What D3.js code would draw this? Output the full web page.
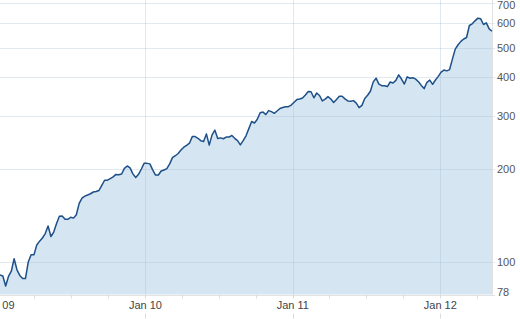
<!DOCTYPE html>
<html>
<head>
<meta charset="utf-8">
<script src="https://cdn.jsdelivr.net/npm/d3@7"></script>
<style>
  body { margin: 0; background: #fff; }
  svg { display: block; font-family: "Liberation Sans", Arial, sans-serif; }
</style>
</head>
<body>
<script>
// weekly closes, first week starting 2009-01-06
const startDate = "2009-01-06";
const closes = [
  90.4, 89.7, 83.2, 89.4, 93.0, 102.2, 94.0, 90.1, 88.1, 88.0,
  99.7, 105.2, 105.2, 113.3, 116.6, 119.4, 123.5, 130.8, 120.8, 124.9,
  133.1, 140.6, 140.8, 137.5, 137.4, 139.6, 138.7, 142.3, 154.9, 161.3,
  163.7, 165.1, 166.6, 168.8, 169.4, 170.8, 177.3, 184.4, 184.5, 186.8,
  189.1, 192.7, 192.1, 193.3, 201.6, 205.3, 202.5, 193.5, 188.3, 192.9,
  200.7, 209.7, 209.4, 208.6, 199.4, 191.8, 191.8, 197.7, 199.2, 201.3,
  208.7, 218.6, 221.8, 225.5, 231.4, 236.5, 239.9, 243.7, 256.1, 256.1,
  252.9, 248.4, 246.8, 261.4, 240.2, 259.4, 268.8, 252.4, 253.7, 252.0,
  255.3, 255.3, 258.3, 252.8, 248.4, 240.6, 248.4, 257.7, 272.0, 287.0,
  283.7, 292.0, 306.4, 308.2, 302.3, 311.5, 309.1, 305.2, 310.5, 316.5,
  318.9, 320.8, 320.8, 324.8, 331.8, 338.4, 339.9, 342.5, 350.3, 359.7,
  358.9, 343.0, 355.6, 349.0, 335.0, 339.7, 346.0, 339.9, 331.0, 338.9,
  347.2, 347.0, 340.2, 335.0, 334.3, 335.8, 329.5, 318.6, 324.0, 341.2,
  349.5, 360.4, 386.6, 397.5, 380.2, 375.7, 375.7, 373.2, 386.3, 383.4,
  391.0, 407.5, 395.0, 380.5, 401.5, 397.5, 399.0, 394.6, 387.2, 376.5,
  367.6, 385.4, 391.9, 379.6, 392.2, 402.9, 415.9, 422.6, 420.1, 424.2,
  459.0, 494.6, 511.2, 524.5, 533.9, 539.9, 591.0, 598.5, 612.0, 624.5,
  621.5, 595.5, 603.0, 576.0, 566.0
];

const yTicks = [78, 100, 200, 300, 400, 500, 600, 700];
const yearTicks = ["2009-01-01", "2010-01-01", "2011-01-01", "2012-01-01"];
const yearLabels = ["Jan 09", "Jan 10", "Jan 11", "Jan 12"];

const width = 520, height = 319;
const plot = { left: 0, right: 492, top: 3, bottom: 294.6 };

const parse = d3.utcParse("%Y-%m-%d");
const t0 = parse(startDate);
const data = closes.map((v, i) => ({ date: d3.utcWeek.offset(t0, i), value: v }));

const svg = d3.select("body").append("svg")
    .attr("width", width)
    .attr("height", height);

let x = d3.scaleUtc()
    .domain(d3.extent(data, d => d.date))
    .range([plot.left, plot.right]);

let y = d3.scaleLog()
    .domain([78, 700])
    .range([plot.bottom, plot.top]);

// area
svg.append("path")
    .datum(data)
    .attr("fill", "#d5e5f1")
    .attr("d", d3.area()
        .x(d => x(d.date))
        .y0(plot.bottom)
        .y1(d => y(d.value)));

// grid, drawn over the area
const gridColor = "rgba(165,188,212,0.35)";
svg.append("g")
    .selectAll("line")
    .data(yTicks.slice(1))
    .join("line")
    .attr("x1", plot.left)
    .attr("x2", plot.right + 3)
    .attr("y1", d => Math.round(y(d)) + 0.5)
    .attr("y2", d => Math.round(y(d)) + 0.5)
    .attr("stroke", gridColor);

svg.append("g")
    .selectAll("line")
    .data(yearTicks.slice(1))
    .join("line")
    .attr("x1", d => Math.round(x(parse(d))) + 0.5)
    .attr("x2", d => Math.round(x(parse(d))) + 0.5)
    .attr("y1", 0)
    .attr("y2", plot.bottom)
    .attr("stroke", gridColor);

// right border and bottom line
svg.append("line")
    .attr("x1", plot.right + 0.5).attr("x2", plot.right + 0.5)
    .attr("y1", 0).attr("y2", plot.bottom)
    .attr("stroke", "#e2e2e2");
svg.append("line")
    .attr("x1", 0).attr("x2", plot.right + 3)
    .attr("y1", Math.round(plot.bottom) + 0.5).attr("y2", Math.round(plot.bottom) + 0.5)
    .attr("stroke", "#e2e2e2");

// price line
svg.append("path")
    .datum(data)
    .attr("fill", "none")
    .attr("stroke", "#1d5089")
    .attr("stroke-width", 1.5)
    .attr("stroke-linejoin", "round")
    .attr("d", d3.line()
        .x(d => x(d.date))
        .y(d => y(d.value)));

// right axis labels (top one pushed down so it stays inside)
svg.append("g")
    .selectAll("text")
    .data(yTicks)
    .join("text")
    .attr("x", plot.right + 5)
    .attr("y", d => Math.max(9, y(d) + 4 - (d == 78 ? 3 : 0)))
    .attr("font-size", 11)
    .attr("fill", "#555")
    .text(d => d);

// bottom axis: quarter ticks, year labels
const quarters = d3.utcMonth.every(3).range(parse("2009-01-01"), x.domain()[1]);
svg.append("g")
    .selectAll("line")
    .data(quarters)
    .join("line")
    .attr("x1", d => Math.round(x(d)) + 0.5)
    .attr("x2", d => Math.round(x(d)) + 0.5)
    .attr("y1", plot.bottom)
    .attr("y2", plot.bottom + 4)
    .attr("stroke", "#ddd");

svg.append("g")
    .selectAll("line")
    .data(yearTicks)
    .join("line")
    .attr("x1", d => Math.round(x(parse(d))) + 0.5)
    .attr("x2", d => Math.round(x(parse(d))) + 0.5)
    .attr("y1", plot.bottom + 19)
    .attr("y2", plot.bottom + 24)
    .attr("stroke", "#ddd");

svg.append("g")
    .selectAll("text")
    .data(yearTicks)
    .join("text")
    .attr("x", d => x(parse(d)))
    .attr("y", plot.bottom + 14)
    .attr("text-anchor", "middle")
    .attr("font-size", 11)
    .attr("fill", "#444")
    .text((d, i) => yearLabels[i]);
</script>
</body>
</html>
